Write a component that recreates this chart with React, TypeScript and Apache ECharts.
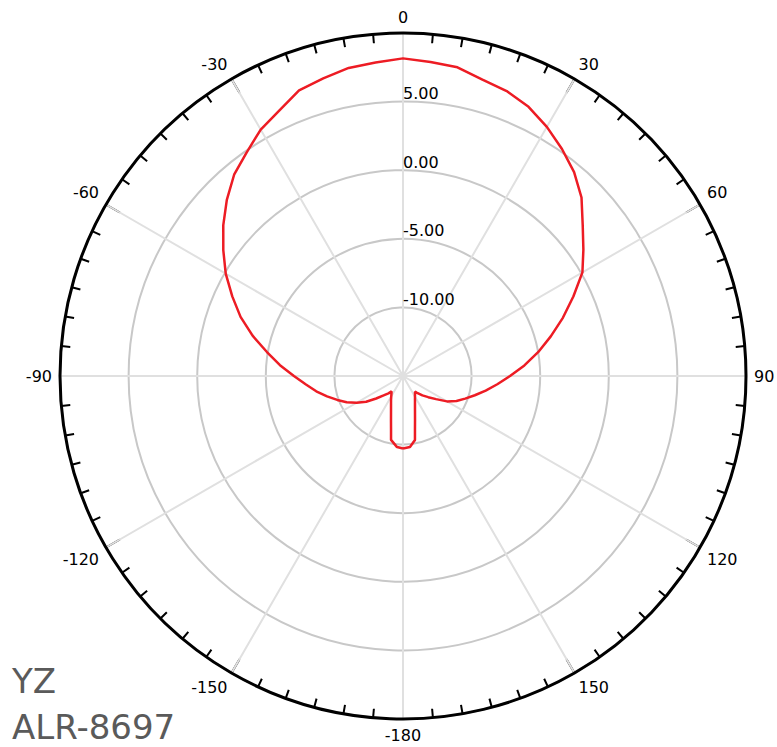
import React, { useEffect, useRef } from 'react';
import * as echarts from 'echarts';

// Angle (degrees, clockwise from top; negative = left half) and gain (dB)
const angleDeg = [
  -180, -175.2, -169.4, -167.5, -164.7, -160.6, -153.4, -143.5, -140, -135, -130, -125, -120, -115,
  -110, -105, -100, -95, -90, -85, -80, -75, -70, -65, -60, -55, -50, -45, -40, -35, -30, -25, -20,
  -15, -10, -5, 0, 5, 10, 15, 20, 25, 30, 35, 40, 45, 50, 55, 60, 65, 70, 75, 80, 85, 90, 95, 100,
  105, 110, 115, 120, 125, 130, 135, 140, 142.6, 153.4, 160.6, 164.7, 167.5, 169.4, 174.4, 180,
];
const gainDb = [
  -9.72, -9.8, -10.26, -10.97, -11.68, -12.37, -13.05, -13.6, -13.35, -13.0, -12.45, -11.72, -11.1, -10.47,
  -9.9, -9.27, -8.58, -7.9, -7.05, -6.0, -4.93, -3.65, -2.4, -1.27, -0.08, 0.99, 2.1, 3.16, 4.15, 4.88, 5.74, 6.35, 7.15,
  7.46, 7.8, 7.93, 8.15, 7.98, 7.85, 7.37, 7.1, 6.65, 5.97, 5.2, 4.4, 3.4, 2.1, 1.05, 0.1, -1.3, -2.6, -3.85, -5.0, -6.12, -7.2, -8.1, -8.88,
  -9.58, -10.18, -10.7, -11.3, -12.06, -12.6, -13.0, -13.4, -13.56, -13.05, -12.37, -11.68, -10.97, -10.26, -9.8, -9.72,
];

const radiusMin = -15;
const radiusMax = 10;
const radiusStep = 5;
const angleStep = 30;

const titleLines = ['YZ', 'ALR-8697'];

export default function App() {
  const ref = useRef<HTMLDivElement>(null);

  useEffect(() => {
    if (!ref.current) return;
    const chart = echarts.init(ref.current, null, { renderer: 'svg' });
    const data = angleDeg.map((a, i) => [gainDb[i], a < 0 ? a + 360 : a]);
    chart.setOption({
      animation: false,
      polar: { center: [403, 376], radius: 343 },
      angleAxis: {
        type: 'value',
        min: 0,
        max: 360,
        interval: angleStep,
        startAngle: 90,
        clockwise: true,
        axisLine: { show: true, lineStyle: { color: '#000', width: 3 } },
        axisTick: { show: true, inside: true, length: 16, lineStyle: { color: '#000', width: 2 } },
        minorTick: { show: true, splitNumber: 6, length: 9, lineStyle: { color: '#000', width: 2 } },
        axisLabel: {
          margin: 8,
          fontSize: 16,
          color: '#000',
          fontFamily: 'DejaVu Sans',
          formatter: (v: number) => {
            if (v === 360) return '';
            return String(v >= 180 ? v - 360 : v);
          },
        },
        splitLine: { show: true, lineStyle: { color: '#e0e0e0', width: 2 } },
      },
      radiusAxis: {
        type: 'value',
        min: radiusMin,
        max: radiusMax,
        interval: radiusStep,
        axisLine: { show: false },
        axisTick: { show: false },
        axisLabel: {
          showMinLabel: false,
          showMaxLabel: false,
          formatter: (v: number) => v.toFixed(2),
          fontSize: 16,
          color: '#000',
          fontFamily: 'DejaVu Sans',
          align: 'left',
          verticalAlign: 'bottom',
          margin: 0,
        },
        splitLine: { show: true, lineStyle: { color: '#c8c8c8', width: 2 } },
      },
      series: [
        {
          type: 'line',
          coordinateSystem: 'polar',
          data,
          symbol: 'none',
          lineStyle: { color: '#ed1c24', width: 2.5 },
          z: 5,
        },
      ],
      graphic: titleLines.map((t, i) => ({
        type: 'text',
        left: 12,
        top: 664 + i * 46,
        style: {
          text: t,
          fontSize: 34,
          fontFamily: 'DejaVu Sans',
          fill: '#5a5a5a',
        },
      })),
    });
    return () => chart.dispose();
  }, []);

  return (
    <div
      ref={ref}
      style={{ position: 'absolute', left: 0, top: 0, width: 777, height: 747 }}
    />
  );
}
